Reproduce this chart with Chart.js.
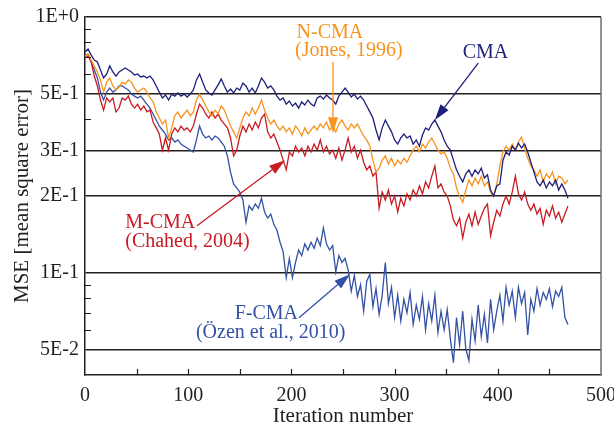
<!DOCTYPE html>
<html>
<head>
<meta charset="utf-8">
<script src="https://cdn.jsdelivr.net/npm/chart.js@4/dist/chart.umd.min.js"></script>
<style>
html, body { margin: 0; padding: 0; background: #fff; }
</style>
</head>
<body>
<canvas id="myChart" width="614" height="425"></canvas>
<script>
// iteration numbers (sampled every 3 iterations)
const iterations = [0,3,6,9,12,15,18,21,24,27,30,33,36,39,42,45,48,51,54,57,60,63,66,69,72,75,78,81,84,87,90,93,96,99,102,105,108,111,114,117,120,123,126,129,132,135,138,141,144,147,150,153,156,159,162,165,168,171,174,177,180,183,186,189,192,195,198,201,204,207,210,213,216,219,222,225,228,231,234,237,240,243,246,249,252,255,258,261,264,267,270,273,276,279,282,285,288,291,294,297,300,303,306,309,312,315,318,321,324,327,330,333,336,339,342,345,348,351,354,357,360,363,366,369,372,375,378,381,384,387,390,393,396,399,402,405,408,411,414,417,420,423,426,429,432,435,438,441,444,447,450,453,456,459,462,465,468];

const cmaMSE = [
  .730,.750,.710,.679,.667,.621,.578,.599,.644,.610,
  .588,.610,.621,.632,.621,.610,.594,.599,.583,.588,
  .578,.588,.568,.538,.509,.483,.496,.474,.500,.491,
  .505,.491,.500,.487,.500,.519,.568,.599,.557,.519,
  .505,.496,.519,.543,.573,.538,.509,.523,.505,.528,
  .519,.552,.538,.509,.528,.505,.538,.578,.557,.528,
  .538,.519,.491,.474,.483,.457,.470,.449,.461,.441,
  .466,.453,.474,.457,.449,.483,.491,.478,.496,.483,
  .474,.457,.491,.509,.528,.509,.487,.500,.478,.491,
  .474,.449,.426,.403,.362,.331,.369,.396,.375,.356,
  .331,.319,.337,.349,.337,.343,.319,.331,.313,.346,
  .369,.362,.382,.396,.375,.356,.331,.313,.302,.276,
  .253,.239,.227,.244,.253,.239,.253,.244,.257,.235,
  .242,.211,.200,.219,.223,.276,.297,.289,.313,.302,
  .322,.308,.319,.297,.271,.248,.227,.219,.231,.215,
  .227,.219,.231,.211,.223,.211,.196
];

const ncmaMSE = [
  .704,.717,.679,.644,.610,.568,.509,.557,.578,.538,
  .519,.533,.557,.547,.568,.557,.528,.509,.519,.528,
  .509,.483,.466,.426,.403,.382,.396,.337,.369,.411,
  .426,.403,.418,.433,.411,.426,.474,.500,.474,.449,
  .426,.411,.433,.418,.449,.433,.403,.375,.356,.337,
  .369,.403,.426,.411,.441,.418,.441,.474,.433,.403,
  .382,.396,.375,.362,.375,.356,.369,.349,.375,.362,
  .343,.369,.349,.362,.375,.362,.382,.369,.389,.362,
  .375,.356,.382,.396,.375,.362,.382,.369,.382,.362,
  .343,.331,.313,.276,.248,.257,.276,.287,.267,.281,
  .262,.276,.267,.281,.271,.287,.302,.313,.297,.319,
  .308,.325,.337,.319,.302,.292,.297,.281,.257,.244,
  .215,.200,.189,.211,.231,.219,.235,.223,.239,.219,
  .227,.207,.200,.223,.262,.297,.313,.302,.319,.302,
  .325,.340,.308,.281,.262,.253,.239,.253,.227,.244,
  .235,.248,.223,.239,.235,.223,.231
];

const mcmaMSE = [
  .692,.704,.667,.588,.538,.474,.433,.483,.466,.483,
  .426,.441,.483,.474,.491,.457,.441,.457,.433,.449,
  .426,.433,.389,.369,.349,.302,.337,.302,.349,.369,
  .356,.375,.362,.369,.356,.375,.418,.457,.441,.418,
  .403,.426,.403,.418,.396,.382,.369,.337,.287,.302,
  .343,.375,.356,.382,.362,.389,.369,.403,.418,.356,
  .337,.349,.325,.302,.276,.253,.297,.287,.313,.297,
  .308,.287,.313,.297,.319,.302,.331,.297,.313,.292,
  .302,.281,.308,.276,.302,.337,.297,.313,.281,.302,
  .271,.253,.262,.239,.248,.179,.207,.193,.211,.186,
  .200,.173,.196,.183,.204,.193,.211,.200,.219,.204,
  .227,.215,.239,.262,.215,.223,.207,.200,.183,.161,
  .153,.164,.137,.158,.170,.153,.173,.155,.167,.179,
  .186,.140,.158,.176,.167,.186,.200,.186,.207,.239,
  .204,.193,.207,.186,.176,.186,.170,.179,.155,.176,
  .167,.183,.164,.173,.158,.170,.183
];

const fcmaMSE = [
  .710,.717,.667,.621,.578,.509,.474,.509,.528,.509,
  .519,.538,.538,.528,.519,.500,.491,.483,.491,.474,
  .457,.441,.418,.396,.375,.362,.349,.331,.337,.325,
  .331,.319,.313,.308,.302,.297,.331,.375,.349,.337,
  .343,.331,.343,.337,.325,.313,.287,.248,.223,.215,
  .207,.193,.158,.183,.176,.186,.179,.196,.173,.164,
  .170,.155,.147,.132,.121,.096,.114,.096,.110,.123,
  .117,.130,.123,.132,.125,.137,.128,.150,.130,.123,
  .128,.101,.117,.110,.114,.103,.085,.098,.081,.090,
  .071,.093,.099,.074,.087,.069,.082,.110,.076,.088,
  .067,.082,.065,.079,.070,.084,.063,.075,.066,.081,
  .060,.076,.065,.082,.0585,.071,.060,.072,.0554,.0447,
  .067,.0525,.071,.0506,.0455,.066,.0544,.075,.0564,.069,
  .0534,.079,.060,.071,.082,.065,.088,.075,.085,.067,
  .088,.076,.084,.0574,.079,.071,.087,.075,.084,.079,
  .087,.074,.085,.081,.088,.067,.063
];

// y axis: labelled ticks and the small unlabelled ones
const yMajor = [0.05, 0.1, 0.2, 0.3, 0.5, 1];
const yLabels = ['5E-2', '1E-1', '2E-1', '3E-1', '5E-1', '1E+0'];
const yMinor = [0.06, 0.07, 0.08, 0.09, 0.4, 0.6, 0.7, 0.8, 0.9];
const xMinor = [50, 100, 150, 200, 250, 300, 350, 400, 450];

const INK = '#231f20';
const NAVY = '#1d1f78';
const ORANGE = '#f7931e';
const RED = '#c81b22';
const BLUE = '#3352a6';
const FONT = '"Liberation Serif", "Times New Roman", serif';

// callouts, placed in data units (iteration, MSE)
const notes = [
  { text: 'N-CMA', x: 205, y: 0.866, color: ORANGE },
  { text: '(Jones, 1996)', x: 203.5, y: 0.737, color: ORANGE },
  { text: 'CMA', x: 366, y: 0.723, color: NAVY },
  { text: 'M-CMA', x: 39, y: 0.157, color: RED },
  { text: '(Chahed, 2004)', x: 39, y: 0.132, color: RED },
  { text: 'F-CMA', x: 145, y: 0.0692, color: BLUE },
  { text: '(Özen et al., 2010)', x: 107.5, y: 0.0583, color: BLUE }
];
const arrows = [
  { from: [381, 0.661], to: [339, 0.396], color: NAVY },
  { from: [240.3, 0.667], to: [240.3, 0.352], color: ORANGE },
  { from: [108.5, 0.153], to: [193.8, 0.276], color: RED },
  { from: [207.4, 0.067], to: [256.8, 0.099], color: BLUE }
];

function series(vals) {
  return iterations.map((it, i) => ({ x: it, y: vals[i] }));
}

const overlay = {
  id: 'overlay',
  afterDatasetsDraw(chart) {
    const { ctx, chartArea: a, scales: { x, y } } = chart;
    ctx.save();
    // inward ticks
    ctx.strokeStyle = INK;
    ctx.lineWidth = 1.2;
    ctx.beginPath();
    xMinor.forEach(v => {
      const px = Math.round(x.getPixelForValue(v)) + 0.5;
      ctx.moveTo(px, a.bottom);
      ctx.lineTo(px, a.bottom - 6);
    });
    yMinor.forEach(v => {
      const py = Math.round(y.getPixelForValue(v)) + 0.5;
      ctx.moveTo(a.left, py);
      ctx.lineTo(a.left + 6, py);
    });
    ctx.stroke();
    // right frame edge
    ctx.strokeStyle = '#6d6e71';
    ctx.lineWidth = 1.5;
    ctx.beginPath();
    ctx.moveTo(a.right, a.top);
    ctx.lineTo(a.right, a.bottom);
    ctx.stroke();

    // arrows
    arrows.forEach(ar => {
      const x0 = x.getPixelForValue(ar.from[0]), y0 = y.getPixelForValue(ar.from[1]);
      const x1 = x.getPixelForValue(ar.to[0]), y1 = y.getPixelForValue(ar.to[1]);
      const ang = Math.atan2(y1 - y0, x1 - x0);
      const len = 16, half = 5;
      const bx = x1 - len * Math.cos(ang), by = y1 - len * Math.sin(ang);
      ctx.strokeStyle = ar.color;
      ctx.fillStyle = ar.color;
      ctx.lineWidth = 1.3;
      ctx.beginPath();
      ctx.moveTo(x0, y0);
      ctx.lineTo(bx, by);
      ctx.stroke();
      ctx.beginPath();
      ctx.moveTo(x1, y1);
      ctx.lineTo(bx + half * Math.sin(ang), by - half * Math.cos(ang));
      ctx.lineTo(bx - half * Math.sin(ang), by + half * Math.cos(ang));
      ctx.closePath();
      ctx.fill();
    });

    // labels
    ctx.font = '20px ' + FONT;
    ctx.textAlign = 'left';
    ctx.textBaseline = 'middle';
    notes.forEach(n => {
      ctx.fillStyle = n.color;
      ctx.fillText(n.text, x.getPixelForValue(n.x), y.getPixelForValue(n.y));
    });
    ctx.restore();
  }
};

const ctx = document.getElementById('myChart').getContext('2d');

const config = {
  type: 'line',
  data: {
    datasets: [
      { label: 'CMA', data: series(cmaMSE), borderColor: NAVY },
      { label: 'N-CMA', data: series(ncmaMSE), borderColor: ORANGE },
      { label: 'M-CMA', data: series(mcmaMSE), borderColor: RED },
      { label: 'F-CMA', data: series(fcmaMSE), borderColor: BLUE }
    ]
  },
  options: {
    responsive: false,
    animation: false,
    devicePixelRatio: 1,
    layout: { padding: { top: 17, right: 13, left: 0, bottom: 0 } },
    elements: {
      line: { borderWidth: 1.3, tension: 0, fill: false },
      point: { radius: 0 }
    },
    plugins: {
      legend: { display: false },
      tooltip: { enabled: false }
    },
    scales: {
      x: {
        type: 'linear',
        min: 0,
        max: 500,
        afterFit: s => { s.height = 50; s.paddingLeft = 0; s.paddingRight = 0; },
        ticks: { stepSize: 100, color: INK, padding: 9, maxRotation: 0, font: { family: FONT, size: 20 } },
        grid: { drawOnChartArea: false, drawTicks: false },
        border: { color: INK, width: 1.5 },
        title: {
          display: true,
          text: 'Iteration number',
          color: INK,
          padding: { top: 0, bottom: -4 },
          font: { family: FONT, size: 21 }
        }
      },
      y: {
        type: 'logarithmic',
        min: 0.04,
        max: 1,
        afterFit: s => { s.width = 85; s.paddingTop = 0; s.paddingBottom = 0; },
        afterBuildTicks: s => { s.ticks = yMajor.map(v => ({ value: v })); },
        ticks: {
          color: INK,
          padding: 6,
          font: { family: FONT, size: 20 },
          callback: v => yLabels[yMajor.indexOf(v)]
        },
        grid: { color: INK, lineWidth: 1.4, drawTicks: false },
        border: { color: INK, width: 1.5 },
        title: {
          display: true,
          text: 'MSE [mean square error]',
          color: INK,
          padding: { top: 10, bottom: 0 },
          font: { family: FONT, size: 21 }
        }
      }
    }
  },
  plugins: [overlay]
};

const myChart = new Chart(ctx, config);
</script>
</body>
</html>
